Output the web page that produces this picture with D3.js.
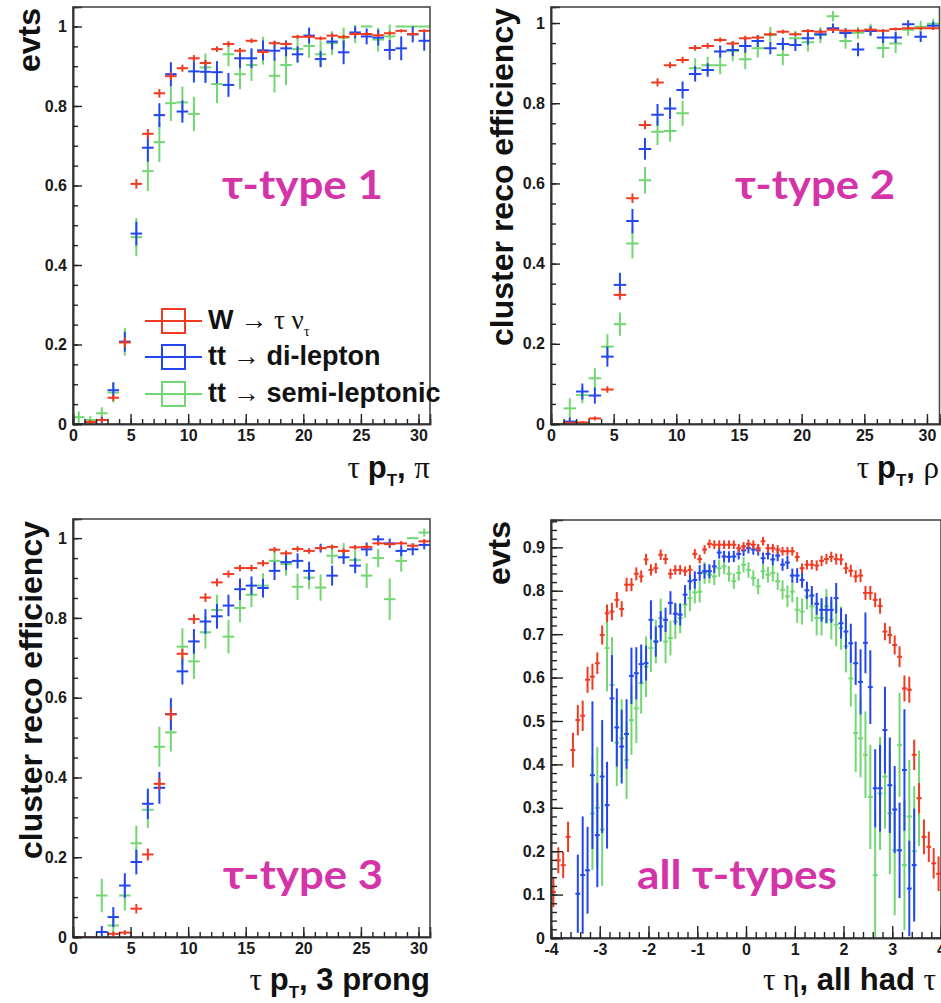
<!DOCTYPE html>
<html>
<head>
<meta charset="utf-8">
<script src="https://cdn.jsdelivr.net/npm/d3@7"></script>
<style>
body { margin: 0; background: #fff; }
svg { display: block; }
</style>
</head>
<body>
<script>
var width = 941;
var height = 1003;

var red = "#f23a22";
var blue = "#2346f0";
var green = "#72d672";
var magenta = "#d434a8";
var sansBold = "'Liberation Sans', Arial, sans-serif";
var serif = "'Liberation Serif', 'DejaVu Serif', serif";

// bins: pT in 1 GeV bins from 0 to 31, eta in 0.1 bins from -4 to 4
var ptEdges = d3.range(0, 31);
var etaEdges = d3.range(80).map(function(i) { return -4 + i * 0.1; });

// tick labels
var ptMajor = [0, 5, 10, 15, 20, 25, 30];
var effMajor = [0, 0.2, 0.4, 0.6, 0.8, 1];
var etaMajor = [-4, -3, -2, -1, 0, 1, 2, 3, 4];
var evtMajor = [0, 0.1, 0.2, 0.3, 0.4, 0.5, 0.6, 0.7, 0.8, 0.9];

// ---- tau-type 1 (pi) ----
var red1 = [0, 0.005, 0.01, 0.066, 0.205, 0.604, 0.730, 0.832, 0.875, 0.895, 0.920, 0.908, 0.943, 0.956, 0.939, 0.964,
  0.936, 0.958, 0.956, 0.974, 0.974, 0.970, 0.977, 0.974, 0.981, 0.981, 0.978, 0.983, 0.989, 0.981, 0.989];
var red1Err = [0, 0.005, 0.006, 0.008, 0.012, 0.012, 0.012, 0.011, 0.01, 0.009, 0.008, 0.008, 0.007, 0.007, 0.007, 0.006,
  0.006, 0.006, 0.006, 0.005, 0.005, 0.005, 0.005, 0.005, 0.005, 0.005, 0.005, 0.005, 0.004, 0.004, 0.004];
var blue1 = [0, 0.005, 0.01, 0.085, 0.207, 0.479, 0.695, 0.777, 0.880, 0.786, 0.887, 0.886, 0.885, 0.853, 0.920, 0.920,
  0.940, 0.939, 0.945, 0.930, 0.977, 0.918, 0.962, 0.935, 0.985, 0.975, 0.972, 0.941, 0.945, 0.980, 0.964];
var blue1Err = [0, 0.005, 0.008, 0.02, 0.025, 0.03, 0.035, 0.03, 0.03, 0.028, 0.028, 0.028, 0.028, 0.03, 0.025, 0.025,
  0.025, 0.025, 0.02, 0.02, 0.02, 0.02, 0.02, 0.03, 0.015, 0.02, 0.02, 0.025, 0.03, 0.02, 0.025];
var green1 = [0.017, 0.01, 0.027, 0.079, 0.207, 0.47, 0.636, 0.709, 0.807, 0.809, 0.78, 0.897, 0.855, 0.93, 0.88, 0.903,
  0.939, 0.876, 0.903, 0.943, 0.951, 0.93, 0.958, 0.972, 0.981, 1.0, 0.967, 0.975, 1.0, 1.0, 1.0];
var green1Err = [0.015, 0.01, 0.015, 0.025, 0.035, 0.048, 0.05, 0.05, 0.045, 0.04, 0.043, 0.035, 0.048, 0.03, 0.038, 0.04,
  0.035, 0.042, 0.05, 0.035, 0.03, 0.033, 0.03, 0.025, 0.023, 0, 0.03, 0.03, 0, 0, 0];

// ---- tau-type 2 (rho) ----
var red2 = [0, 0.003, 0.004, 0.014, 0.086, 0.322, 0.563, 0.746, 0.852, 0.895, 0.908, 0.938, 0.943, 0.958, 0.949, 0.962,
  0.964, 0.972, 0.978, 0.972, 0.980, 0.978, 0.983, 0.981, 0.981, 0.983, 0.981, 0.985, 0.987, 0.987, 0.987];
var red2Err = [0, 0.003, 0.003, 0.005, 0.008, 0.012, 0.012, 0.011, 0.01, 0.008, 0.008, 0.007, 0.007, 0.006, 0.006, 0.006,
  0.005, 0.005, 0.005, 0.005, 0.005, 0.005, 0.005, 0.005, 0.005, 0.005, 0.004, 0.004, 0.004, 0.004, 0.004];
var blue2 = [0, 0.006, 0.081, 0.071, 0.168, 0.347, 0.506, 0.686, 0.771, 0.787, 0.833, 0.873, 0.883, 0.929, 0.933, 0.943,
  0.955, 0.937, 0.948, 0.945, 0.962, 0.972, 0.987, 0.975, 0.934, 0.98, 0.964, 0.964, 0.997, 0.966, 0.993];
var blue2Err = [0, 0.01, 0.02, 0.02, 0.025, 0.03, 0.03, 0.027, 0.027, 0.027, 0.021, 0.019, 0.017, 0.015, 0.015, 0.017,
  0.015, 0.015, 0.015, 0.015, 0.016, 0.012, 0.012, 0.012, 0.017, 0.012, 0.014, 0.014, 0.01, 0.013, 0.01];
var green2 = [0, 0.039, 0.072, 0.114, 0.193, 0.249, 0.45, 0.608, 0.729, 0.731, 0.775, 0.887, 0.895, 0.895, 0.93, 0.91,
  0.937, 0.97, 0.92, 0.962, 0.952, 0.97, 1.017, 0.955, 0.976, 0.983, 0.938, 0.949, 0.983, 0.991, 0.998];
var green2Err = [0, 0.025, 0.02, 0.025, 0.031, 0.029, 0.037, 0.033, 0.033, 0.027, 0.031, 0.025, 0.021, 0.023, 0.025, 0.025,
  0.023, 0.02, 0.025, 0.019, 0.023, 0.02, 0.013, 0.019, 0.015, 0.015, 0.025, 0.023, 0.015, 0.015, 0.012];

// ---- tau-type 3 (3 prong) ----
var red3 = [0, 0, 0, 0.008, 0.011, 0.071, 0.207, 0.384, 0.558, 0.71, 0.797, 0.851, 0.889, 0.91, 0.925, 0.925,
  0.937, 0.971, 0.962, 0.973, 0.968, 0.975, 0.978, 0.968, 0.977, 0.978, 0.987, 0.985, 0.987, 0.981, 0.992];
var red3Err = [0, 0, 0, 0.006, 0.006, 0.012, 0.015, 0.015, 0.015, 0.013, 0.012, 0.011, 0.01, 0.009, 0.008, 0.008,
  0.008, 0.007, 0.007, 0.007, 0.007, 0.006, 0.006, 0.006, 0.006, 0.006, 0.006, 0.006, 0.006, 0.006, 0.006];
var blue3 = [0, 0, 0.0125, 0.05, 0.129, 0.188, 0.334, 0.374, 0.559, 0.666, 0.741, 0.791, 0.804, 0.831, 0.872, 0.881,
  0.875, 0.918, 0.94, 0.943, 0.918, 0.975, 0.906, 0.952, 0.931, 0.972, 0.997, 0.987, 0.968, 0.972, 0.983];
var blue3Err = [0, 0, 0.015, 0.025, 0.031, 0.031, 0.038, 0.04, 0.04, 0.033, 0.031, 0.031, 0.031, 0.027, 0.027, 0.023,
  0.023, 0.023, 0.02, 0.019, 0.023, 0.011, 0.025, 0.017, 0.019, 0.017, 0.01, 0.012, 0.013, 0.015, 0.011];
var green3 = [0, 0, 0.104, 0.029, 0.104, 0.235, 0.319, 0.477, 0.513, 0.728, 0.691, 0.764, 0.82, 0.753, 0.825, 0.858,
  0.881, 0.943, 0.935, 0.878, 0.901, 0.876, 0.956, 0.968, 0.945, 0.906, 0.95, 0.847, 0.943, 1.0, 1.014];
var green3Err = [0, 0, 0.042, 0.025, 0.038, 0.044, 0.046, 0.05, 0.048, 0.046, 0.044, 0.041, 0.038, 0.042, 0.036, 0.031,
  0.031, 0.027, 0.029, 0.033, 0.029, 0.033, 0.021, 0.02, 0.025, 0.031, 0.023, 0.052, 0.027, 0, 0.01];

// ---- all tau-types vs eta ----
var red4 = [0.106, 0.179, 0.168, 0.233, 0.433, 0.502, 0.512, 0.595, 0.602, 0.633,
  0.698, 0.748, 0.752, 0.779, 0.758, 0.814, 0.814, 0.839, 0.833, 0.872,
  0.848, 0.852, 0.883, 0.873, 0.839, 0.848, 0.848, 0.845, 0.848, 0.885,
  0.873, 0.895, 0.908, 0.906, 0.906, 0.906, 0.906, 0.906, 0.898, 0.902,
  0.908, 0.906, 0.898, 0.914, 0.898, 0.898, 0.895, 0.891, 0.891, 0.891,
  0.878, 0.852, 0.86, 0.86, 0.858, 0.869, 0.873, 0.878, 0.873, 0.872,
  0.852, 0.846, 0.833, 0.835, 0.795, 0.795, 0.779, 0.765, 0.706, 0.698,
  0.675, 0.648, 0.575, 0.572, 0.422, 0.322, 0.233, 0.21, 0.172, 0.148];
var red4Err = [0.035, 0.03, 0.03, 0.035, 0.04, 0.035, 0.035, 0.03, 0.03, 0.025,
  0.022, 0.02, 0.02, 0.018, 0.018, 0.016, 0.015, 0.015, 0.014, 0.013,
  0.013, 0.012, 0.012, 0.012, 0.012, 0.011, 0.011, 0.011, 0.011, 0.011,
  0.01, 0.01, 0.01, 0.01, 0.01, 0.01, 0.01, 0.01, 0.01, 0.01,
  0.01, 0.01, 0.01, 0.01, 0.01, 0.01, 0.01, 0.01, 0.01, 0.01,
  0.011, 0.011, 0.011, 0.011, 0.012, 0.012, 0.012, 0.012, 0.013, 0.013,
  0.013, 0.014, 0.014, 0.015, 0.016, 0.016, 0.017, 0.018, 0.02, 0.02,
  0.022, 0.024, 0.03, 0.03, 0.035, 0.035, 0.04, 0.035, 0.035, 0.04];
var blue4 = [0, 0, 0, 0, 0, 0.102, 0.145, 0.156, 0.375, 0.237,
  0.372, 0.306, 0.552, 0.485, 0.441, 0.47, 0.604, 0.61, 0.631, 0.633,
  0.733, 0.683, 0.718, 0.733, 0.772, 0.747, 0.745, 0.791, 0.822, 0.825,
  0.841, 0.845, 0.845, 0.856, 0.888, 0.879, 0.878, 0.879, 0.885, 0.893,
  0.898, 0.895, 0.893, 0.875, 0.885, 0.872, 0.881, 0.86, 0.865, 0.835,
  0.835, 0.825, 0.801, 0.789, 0.77, 0.756, 0.756, 0.756, 0.783, 0.725,
  0.706, 0.679, 0.633, 0.59, 0.68, 0.578, 0.345, 0.345, 0.479, 0.352,
  0.296, 0.202, 0.387, 0.114, 0.168, 0, 0, 0, 0, 0];
var blue4Err = [0, 0, 0, 0, 0, 0.09, 0.135, 0.1, 0.17, 0.12,
  0.13, 0.1, 0.1, 0.09, 0.085, 0.08, 0.065, 0.06, 0.045, 0.04,
  0.045, 0.035, 0.035, 0.028, 0.027, 0.025, 0.025, 0.022, 0.02, 0.02,
  0.018, 0.017, 0.016, 0.015, 0.014, 0.013, 0.013, 0.013, 0.013, 0.013,
  0.012, 0.012, 0.012, 0.013, 0.013, 0.013, 0.013, 0.014, 0.015, 0.016,
  0.017, 0.018, 0.02, 0.022, 0.025, 0.027, 0.03, 0.03, 0.035, 0.035,
  0.04, 0.045, 0.05, 0.075, 0.07, 0.085, 0.09, 0.1, 0.1, 0.11,
  0.1, 0.11, 0.14, 0.11, 0.13, 0, 0, 0, 0, 0];
var green4 = [0, 0, 0, 0, 0, 0, 0, 0, 0.287, 0.30,
  0.25, 0.668, 0.583, 0.45, 0.46, 0.41, 0.502, 0.529, 0.587, 0.625,
  0.668, 0.683, 0.737, 0.683, 0.691, 0.729, 0.737, 0.768, 0.783, 0.796,
  0.798, 0.841, 0.837, 0.833, 0.852, 0.856, 0.839, 0.822, 0.841, 0.86,
  0.848, 0.829, 0.81, 0.845, 0.837, 0.841, 0.822, 0.802, 0.787, 0.798,
  0.756, 0.752, 0.787, 0.764, 0.737, 0.737, 0.764, 0.733, 0.722, 0.714,
  0.672, 0.598, 0.472, 0.46, 0.422, 0.325, 0.145, 0.333, 0.372, 0.287,
  0.202, 0.445, 0.168, 0.28, 0.2, 0.322, 0, 0, 0, 0];
var green4Err = [0, 0, 0, 0, 0, 0, 0, 0, 0.13, 0.14,
  0.13, 0.1, 0.11, 0.1, 0.09, 0.09, 0.08, 0.08, 0.07, 0.07,
  0.055, 0.05, 0.045, 0.05, 0.04, 0.04, 0.035, 0.03, 0.03, 0.025,
  0.025, 0.025, 0.02, 0.02, 0.02, 0.018, 0.018, 0.018, 0.018, 0.018,
  0.018, 0.018, 0.018, 0.018, 0.018, 0.02, 0.02, 0.022, 0.025, 0.025,
  0.03, 0.03, 0.03, 0.035, 0.04, 0.04, 0.04, 0.045, 0.05, 0.05,
  0.06, 0.065, 0.09, 0.09, 0.1, 0.12, 0.15, 0.13, 0.12, 0.14,
  0.15, 0.12, 0.15, 0.13, 0.15, 0.11, 0, 0, 0, 0];

var svg = d3.select("body").append("svg")
  .attr("width", width)
  .attr("height", height);

var panels = [
  { id: "p1", box: [73, 430, 7, 424], xDom: [0, 31], yMax: 1.049, edges: ptEdges, bw: 1,
    xMajor: ptMajor, xMinor: d3.range(0, 31), yMajor: effMajor, yMinor: d3.range(0, 21).map(function(i) { return i * 0.05; }),
    tick: [10, 5, 9, 5],
    series: [[green1, green1Err, green], [blue1, blue1Err, blue], [red1, red1Err, red]] },
  { id: "p2", box: [551, 939.5, 7, 424], xDom: [0, 31], yMax: 1.04, edges: ptEdges, bw: 1,
    xMajor: ptMajor, xMinor: d3.range(0, 31), yMajor: effMajor, yMinor: d3.range(0, 21).map(function(i) { return i * 0.05; }),
    tick: [10, 5, 9, 5],
    series: [[green2, green2Err, green], [blue2, blue2Err, blue], [red2, red2Err, red]] },
  { id: "p3", box: [73, 430, 519, 937], xDom: [0, 31], yMax: 1.048, edges: ptEdges, bw: 1,
    xMajor: ptMajor, xMinor: d3.range(0, 31), yMajor: effMajor, yMinor: d3.range(0, 21).map(function(i) { return i * 0.05; }),
    tick: [10, 5, 9, 5],
    series: [[green3, green3Err, green], [blue3, blue3Err, blue], [red3, red3Err, red]] },
  { id: "p4", box: [551, 941, 520, 938], xDom: [-4, 4], yMax: 0.963, edges: etaEdges, bw: 0.1,
    xMajor: etaMajor, xMinor: d3.range(0, 41).map(function(i) { return -4 + i * 0.2; }),
    yMajor: evtMajor, yMinor: d3.range(0, 49).map(function(i) { return i * 0.02; }),
    tick: [12, 6, 12, 6],
    series: [[green4, green4Err, green], [blue4, blue4Err, blue], [red4, red4Err, red]] }
];

function fmt(d) { return String(+d.toFixed(2)); }

panels.forEach(function(p) {
  var L = p.box[0], R = p.box[1], T = p.box[2], B = p.box[3];
  var x = d3.scaleLinear().domain(p.xDom).range([L, R]);
  var y = d3.scaleLinear().domain([0, p.yMax]).range([B, T]);
  var g = svg.append("g");

  g.append("clipPath").attr("id", "clip-" + p.id)
    .append("rect").attr("x", L).attr("y", T).attr("width", R - L).attr("height", B - T);

  // data: one cross per bin (horizontal bin-width bar + vertical error bar)
  var data = g.append("g").attr("clip-path", "url(#clip-" + p.id + ")");
  p.series.forEach(function(s) {
    var pts = s[0].map(function(v, i) { return { lo: p.edges[i], v: v, e: s[1][i] }; });
    var sg = data.append("g").attr("stroke", s[2]).attr("stroke-width", 2);
    sg.selectAll("line.h").data(pts).enter().append("line")
      .attr("class", "h")
      .attr("x1", function(d) { return x(d.lo); })
      .attr("x2", function(d) { return x(d.lo + p.bw); })
      .attr("y1", function(d) { return y(d.v); })
      .attr("y2", function(d) { return y(d.v); });
    sg.selectAll("line.v").data(pts.filter(function(d) { return d.e > 0; })).enter().append("line")
      .attr("class", "v")
      .attr("x1", function(d) { return x(d.lo + p.bw / 2); })
      .attr("x2", function(d) { return x(d.lo + p.bw / 2); })
      .attr("y1", function(d) { return y(Math.max(0, d.v - d.e)); })
      .attr("y2", function(d) { return y(d.v + d.e); });
  });

  // frame
  g.append("rect").attr("x", L).attr("y", T).attr("width", R - L).attr("height", B - T)
    .attr("fill", "none").attr("stroke", "#4a4a4a").attr("stroke-width", 1.6);

  // axes, ticks pointing into the frame
  g.append("g").attr("transform", "translate(0," + B + ")")
    .call(d3.axisBottom(x).tickValues(p.xMajor).tickSize(-p.tick[0]).tickPadding(6).tickFormat(fmt));
  g.append("g").attr("transform", "translate(0," + B + ")")
    .call(d3.axisBottom(x).tickValues(p.xMinor).tickSize(-p.tick[1]).tickFormat(""));
  g.append("g").attr("transform", "translate(" + L + ",0)")
    .call(d3.axisLeft(y).tickValues(p.yMajor).tickSize(-p.tick[2]).tickPadding(6).tickFormat(fmt));
  g.append("g").attr("transform", "translate(" + L + ",0)")
    .call(d3.axisLeft(y).tickValues(p.yMinor).tickSize(-p.tick[3]).tickFormat(""));

  g.selectAll(".domain").attr("stroke", "#333").attr("stroke-width", 1.6);
  g.selectAll(".tick line").attr("stroke", "#222").attr("stroke-width", 1.4);
  g.selectAll(".tick text")
    .attr("font-family", sansBold).attr("font-weight", "bold").attr("font-size", 16).attr("fill", "#1a1a1a");
});

// text helper: parts with serif (symbol) glyphs and subscripts
function rich(t, parts, size) {
  var shifted = 0;
  parts.forEach(function(pt) {
    var ts = t.append("tspan").text(pt.t);
    if (pt.serif) ts.attr("font-family", serif).attr("font-weight", "normal");
    var want = pt.sub ? size * 0.25 : 0;
    if (want !== shifted) { ts.attr("dy", want - shifted); shifted = want; }
    if (pt.sub) ts.attr("font-size", size * 0.55);
  });
}

// y axis titles
var yTitles = [
  { text: "evts", x: 40, y: 8 },
  { text: "cluster reco efficiency", x: 513, y: 8 },
  { text: "cluster reco efficiency", x: 42, y: 521 },
  { text: "evts", x: 510, y: 521 }
];
yTitles.forEach(function(d) {
  svg.append("text")
    .attr("transform", "translate(" + d.x + "," + d.y + ") rotate(-90)")
    .attr("text-anchor", "end")
    .attr("font-family", sansBold).attr("font-weight", "bold").attr("font-size", 32).attr("fill", "#111")
    .text(d.text);
});

// x axis titles
var xTitles = [
  { x: 430, y: 478, anchor: "end", parts: [{ t: "\u03c4 ", serif: 1 }, { t: "p" }, { t: "T", sub: 1 }, { t: ", " }, { t: "\u03c0", serif: 1 }] },
  { x: 939, y: 478, anchor: "end", parts: [{ t: "\u03c4 ", serif: 1 }, { t: "p" }, { t: "T", sub: 1 }, { t: ", " }, { t: "\u03c1", serif: 1 }] },
  { x: 430, y: 990, anchor: "end", parts: [{ t: "\u03c4 ", serif: 1 }, { t: "p" }, { t: "T", sub: 1 }, { t: ", 3 prong" }] },
  { x: 763, y: 990, anchor: "start", parts: [{ t: "\u03c4 \u03b7", serif: 1 }, { t: ", all had " }, { t: "\u03c4", serif: 1 }] }
];
xTitles.forEach(function(d) {
  var t = svg.append("text").attr("x", d.x).attr("y", d.y).attr("text-anchor", d.anchor)
    .attr("font-family", sansBold).attr("font-weight", "bold").attr("font-size", 31).attr("fill", "#111");
  rich(t, d.parts, 31);
});

// legend (panel 1)
var legendNames = [
  [{ t: "W" }, { t: " \u2192 \u03c4 \u03bd", serif: 1 }, { t: "\u03c4", serif: 1, sub: 1 }],
  [{ t: "tt" }, { t: " \u2192 ", serif: 1 }, { t: "di-lepton" }],
  [{ t: "tt" }, { t: " \u2192 ", serif: 1 }, { t: "semi-leptonic" }]
];
var legendColors = [red, blue, green];
var legendRows = [321, 357, 394];
legendNames.forEach(function(parts, i) {
  var cy = legendRows[i];
  var lg = svg.append("g").attr("stroke", legendColors[i]).attr("stroke-width", 2).attr("fill", "none");
  lg.append("line").attr("x1", 145).attr("x2", 202).attr("y1", cy).attr("y2", cy);
  lg.append("rect").attr("x", 162).attr("y", cy - 12).attr("width", 23).attr("height", 24);
  var t = svg.append("text").attr("x", 208).attr("y", cy + 8)
    .attr("font-family", sansBold).attr("font-weight", "bold").attr("font-size", 27).attr("fill", "#111");
  rich(t, parts, 27);
});

// magenta panel labels
var tags = [
  { text: "\u03c4-type 1", x: 222, y: 199, w: 161 },
  { text: "\u03c4-type 2", x: 735, y: 199, w: 160 },
  { text: "\u03c4-type 3", x: 223, y: 889, w: 160 },
  { text: "all \u03c4-types", x: 637, y: 889, w: 200 }
];
tags.forEach(function(d) {
  svg.append("text").attr("x", d.x).attr("y", d.y)
    .attr("font-family", "Lato, 'Open Sans', sans-serif").attr("font-weight", "bold")
    .attr("font-size", 40).attr("fill", magenta)
    .attr("textLength", d.w).attr("lengthAdjust", "spacingAndGlyphs")
    .text(d.text);
});
</script>
</body>
</html>
